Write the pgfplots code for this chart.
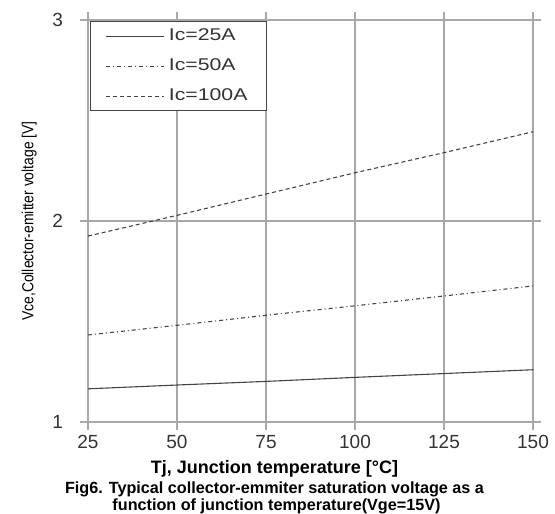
\documentclass[border=0pt]{standalone}
\usepackage{pgfplots}
\pgfplotsset{compat=1.18}
\usepackage{fontspec}
\setmainfont{Liberation Sans}
\usepackage{graphicx}
\definecolor{gridc}{HTML}{A8A8A8}
\definecolor{linec}{HTML}{444444}
\definecolor{txt}{HTML}{333333}
\newcommand{\legtxt}[1]{\scalebox{1.25}[1]{#1}}
\begin{document}
\begin{tikzpicture}
\begin{axis}[
  scale only axis,
  width=222.5pt, height=201pt,
  xmin=25, xmax=150, ymin=1, ymax=3,
  xtick={25,50,75,100,125,150},
  ytick={1,2,3},
  grid=major,
  major grid style={gridc, line width=0.6pt},
  axis line style={gridc, line width=0.6pt},
  tick style={gridc, line width=0.6pt},
  tick align=outside,
  major tick length=4pt,
  /pgf/number format/assume math mode=true,
  ticklabel style={font=\fontsize{9.5}{11}\selectfont, text=txt},
  xticklabel style={yshift=1pt},
  yticklabel style={xshift=-5pt},
  xlabel={\textbf{Tj, Junction temperature [\textdegree C]}},
  xlabel style={font=\fontsize{9}{10}\selectfont, text=black, at={(axis description cs:0.5,0)}, anchor=base, yshift=-25.5pt, xshift=-18pt},
  ylabel={\scalebox{0.87}[1]{Vce,Collector-emitter voltage [V]}},
  ylabel style={font=\fontsize{8}{9}\selectfont, text=black, yshift=1pt},
  legend style={at={(0.005,0.997)}, anchor=north west, draw=linec, line width=0.6pt,
     font=\fontsize{8.5}{9.5}\selectfont, text=txt, row sep=3.6pt, inner xsep=7.5pt, inner ysep=1.5pt,
     cells={anchor=west}},
  legend cell align=left,
  legend image code/.code={\draw[#1] (0pt,0pt) -- (29pt,0pt);},
]
\addplot[linec, line width=0.55pt] coordinates {(25,1.165) (50,1.184) (75,1.202) (100,1.222) (125,1.241) (150,1.260)};
\addlegendentry{\legtxt{Ic=25A}}
\addplot[linec, line width=0.55pt, dash pattern=on 2pt off 1.5pt on 0.5pt off 1.5pt] coordinates {(25,1.433) (50,1.481) (75,1.531) (100,1.578) (125,1.627) (150,1.677)};
\addlegendentry{\legtxt{Ic=50A}}
\addplot[linec, line width=0.55pt, dash pattern=on 2pt off 1.5pt] coordinates {(25,1.925) (50,2.028) (75,2.134) (100,2.240) (125,2.340) (150,2.444)};
\addlegendentry{\legtxt{Ic=100A}}
\end{axis}
\node[font=\bfseries\fontsize{8.1}{9}\selectfont, anchor=base] at ([yshift=-35.5pt,xshift=-18pt]current axis.south) {Fig6. Typical collector-emmiter saturation voltage as a};
\node[font=\bfseries\fontsize{8.1}{9}\selectfont, anchor=base] at ([yshift=-44pt,xshift=-17pt]current axis.south) {function of junction temperature(Vge=15V)};
\pgfresetboundingbox
\useasboundingbox ([xshift=-44pt,yshift=-45.5pt]current axis.south west) rectangle ([xshift=11pt,yshift=10pt]current axis.north east);
\end{tikzpicture}
\end{document}
